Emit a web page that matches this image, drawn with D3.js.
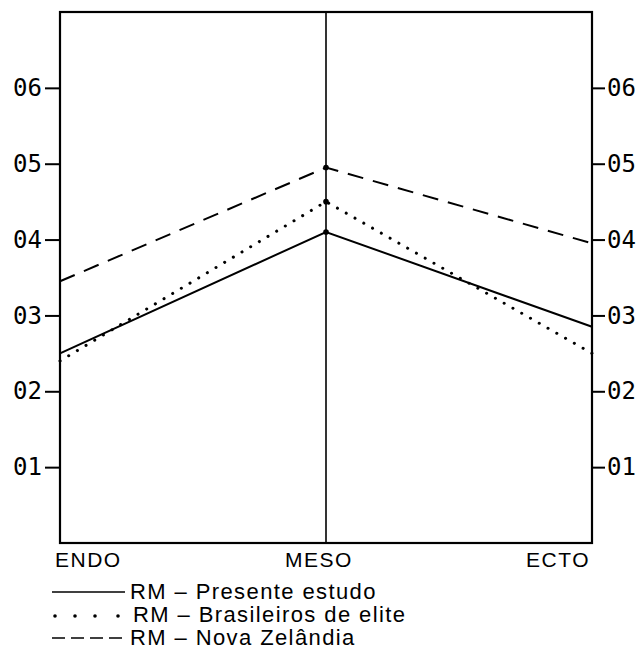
<!DOCTYPE html>
<html>
<head>
<meta charset="utf-8">
<script src="https://cdn.jsdelivr.net/npm/d3@7"></script>
<style>
  body { margin: 0; background: #fff; }
  svg { display: block; }
</style>
</head>
<body>
<div id="chart"></div>
<script>
// somatotype components on the x axis
const categories = ["ENDO", "MESO", "ECTO"];
// y axis ticks (shown as "01".."06")
const yTicks = [0.1, 0.2, 0.3, 0.4, 0.5, 0.6];
// series values
const presenteEstudo = [0.25, 0.41, 0.285];
const brasileirosElite = [0.24, 0.45, 0.25];
const novaZelandia = [0.345, 0.495, 0.395];
const seriesNames = ["RM \u2013 Presente estudo", "RM \u2013 Brasileiros de elite", "RM \u2013 Nova Zel\u00e2ndia"];

const width = 641, height = 671;
const margin = { top: 12, right: 49, bottom: 128, left: 60 };

const svg = d3.select("#chart").append("svg")
  .attr("width", width)
  .attr("height", height);

const x = d3.scalePoint()
  .domain(categories)
  .range([margin.left, width - margin.right]);

const y = d3.scaleLinear()
  .domain([0, 0.7])
  .range([height - margin.bottom, margin.top]);

const fmt = d => "0" + Math.round(d * 10);

// left and right axes, ticks outside the frame
const left = svg.append("g")
  .attr("transform", "translate(" + margin.left + ",0)")
  .call(d3.axisLeft(y).tickValues(yTicks).tickFormat(fmt).tickSize(15).tickPadding(3));
const right = svg.append("g")
  .attr("transform", "translate(" + (width - margin.right) + ",0)")
  .call(d3.axisRight(y).tickValues(yTicks).tickFormat(fmt).tickSize(13).tickPadding(2));

[left, right].forEach(g => {
  g.select(".domain").remove();
  g.selectAll(".tick line").attr("stroke", "#000").attr("stroke-width", 2);
  g.selectAll(".tick text")
    .attr("fill", "#000")
    .style("font-family", "'DejaVu Sans Mono', monospace")
    .style("font-weight", "200")
    .style("font-size", "24px");
});

// frame
svg.append("rect")
  .attr("x", x("ENDO"))
  .attr("y", y(0.7))
  .attr("width", x("ECTO") - x("ENDO"))
  .attr("height", y(0) - y(0.7))
  .attr("fill", "none")
  .attr("stroke", "#000")
  .attr("stroke-width", 2.2);

// middle vertical line at MESO
svg.append("line")
  .attr("x1", x("MESO")).attr("x2", x("MESO"))
  .attr("y1", y(0.7)).attr("y2", y(0))
  .attr("stroke", "#000")
  .attr("stroke-width", 1.6);

const line = d3.line()
  .x((d, i) => x(categories[i]))
  .y(d => y(d));

const styles = [
  { data: presenteEstudo, dash: null, width: 2, cap: "butt" },
  { data: brasileirosElite, dash: "0.1 10", width: 3, cap: "round" },
  { data: novaZelandia, dash: "16 10", width: 2, cap: "butt" }
];

styles.forEach(s => {
  svg.append("path")
    .datum(s.data)
    .attr("d", line)
    .attr("fill", "none")
    .attr("stroke", "#000")
    .attr("stroke-width", s.width)
    .attr("stroke-linecap", s.cap)
    .attr("stroke-dasharray", s.dash);
  // small dot at the MESO peak
  svg.append("circle")
    .attr("cx", x("MESO"))
    .attr("cy", y(s.data[1]))
    .attr("r", 2.8)
    .attr("fill", "#000");
});

// category labels under the frame
const anchors = { ENDO: "start", MESO: "middle", ECTO: "end" };
const nudge = { ENDO: -5, MESO: -7, ECTO: -2 };
svg.selectAll("text.cat")
  .data(categories)
  .enter()
  .append("text")
  .attr("class", "cat")
  .attr("x", d => x(d) + nudge[d])
  .attr("y", y(0) + 24)
  .attr("text-anchor", d => anchors[d])
  .style("font-family", "'Liberation Sans', Arial, sans-serif")
  .style("font-size", "21px")
  .style("letter-spacing", "1.5px")
  .text(d => d);

// legend
const legend = svg.append("g").attr("transform", "translate(52,592)");
styles.forEach((s, i) => {
  const row = legend.append("g").attr("transform", "translate(0," + (i * 23) + ")");
  if (i === 1) {
    row.selectAll("circle")
      .data([3, 23, 43, 66])
      .enter()
      .append("circle")
      .attr("cx", d => d)
      .attr("cy", 1)
      .attr("r", 1.8)
      .attr("fill", "#000");
  } else {
    row.append("line")
      .attr("x1", 0).attr("x2", 73)
      .attr("y1", 0).attr("y2", 0)
      .attr("stroke", "#000")
      .attr("stroke-width", 1.6)
      .attr("stroke-dasharray", i === 2 ? "13 6" : null);
  }
  row.append("text")
    .attr("x", i === 1 ? 81 : 78)
    .attr("y", 7)
    .style("font-family", "'Liberation Sans', Arial, sans-serif")
    .style("font-size", "22px")
    .style("letter-spacing", "1.4px")
    .text(seriesNames[i]);
});
</script>
</body>
</html>
